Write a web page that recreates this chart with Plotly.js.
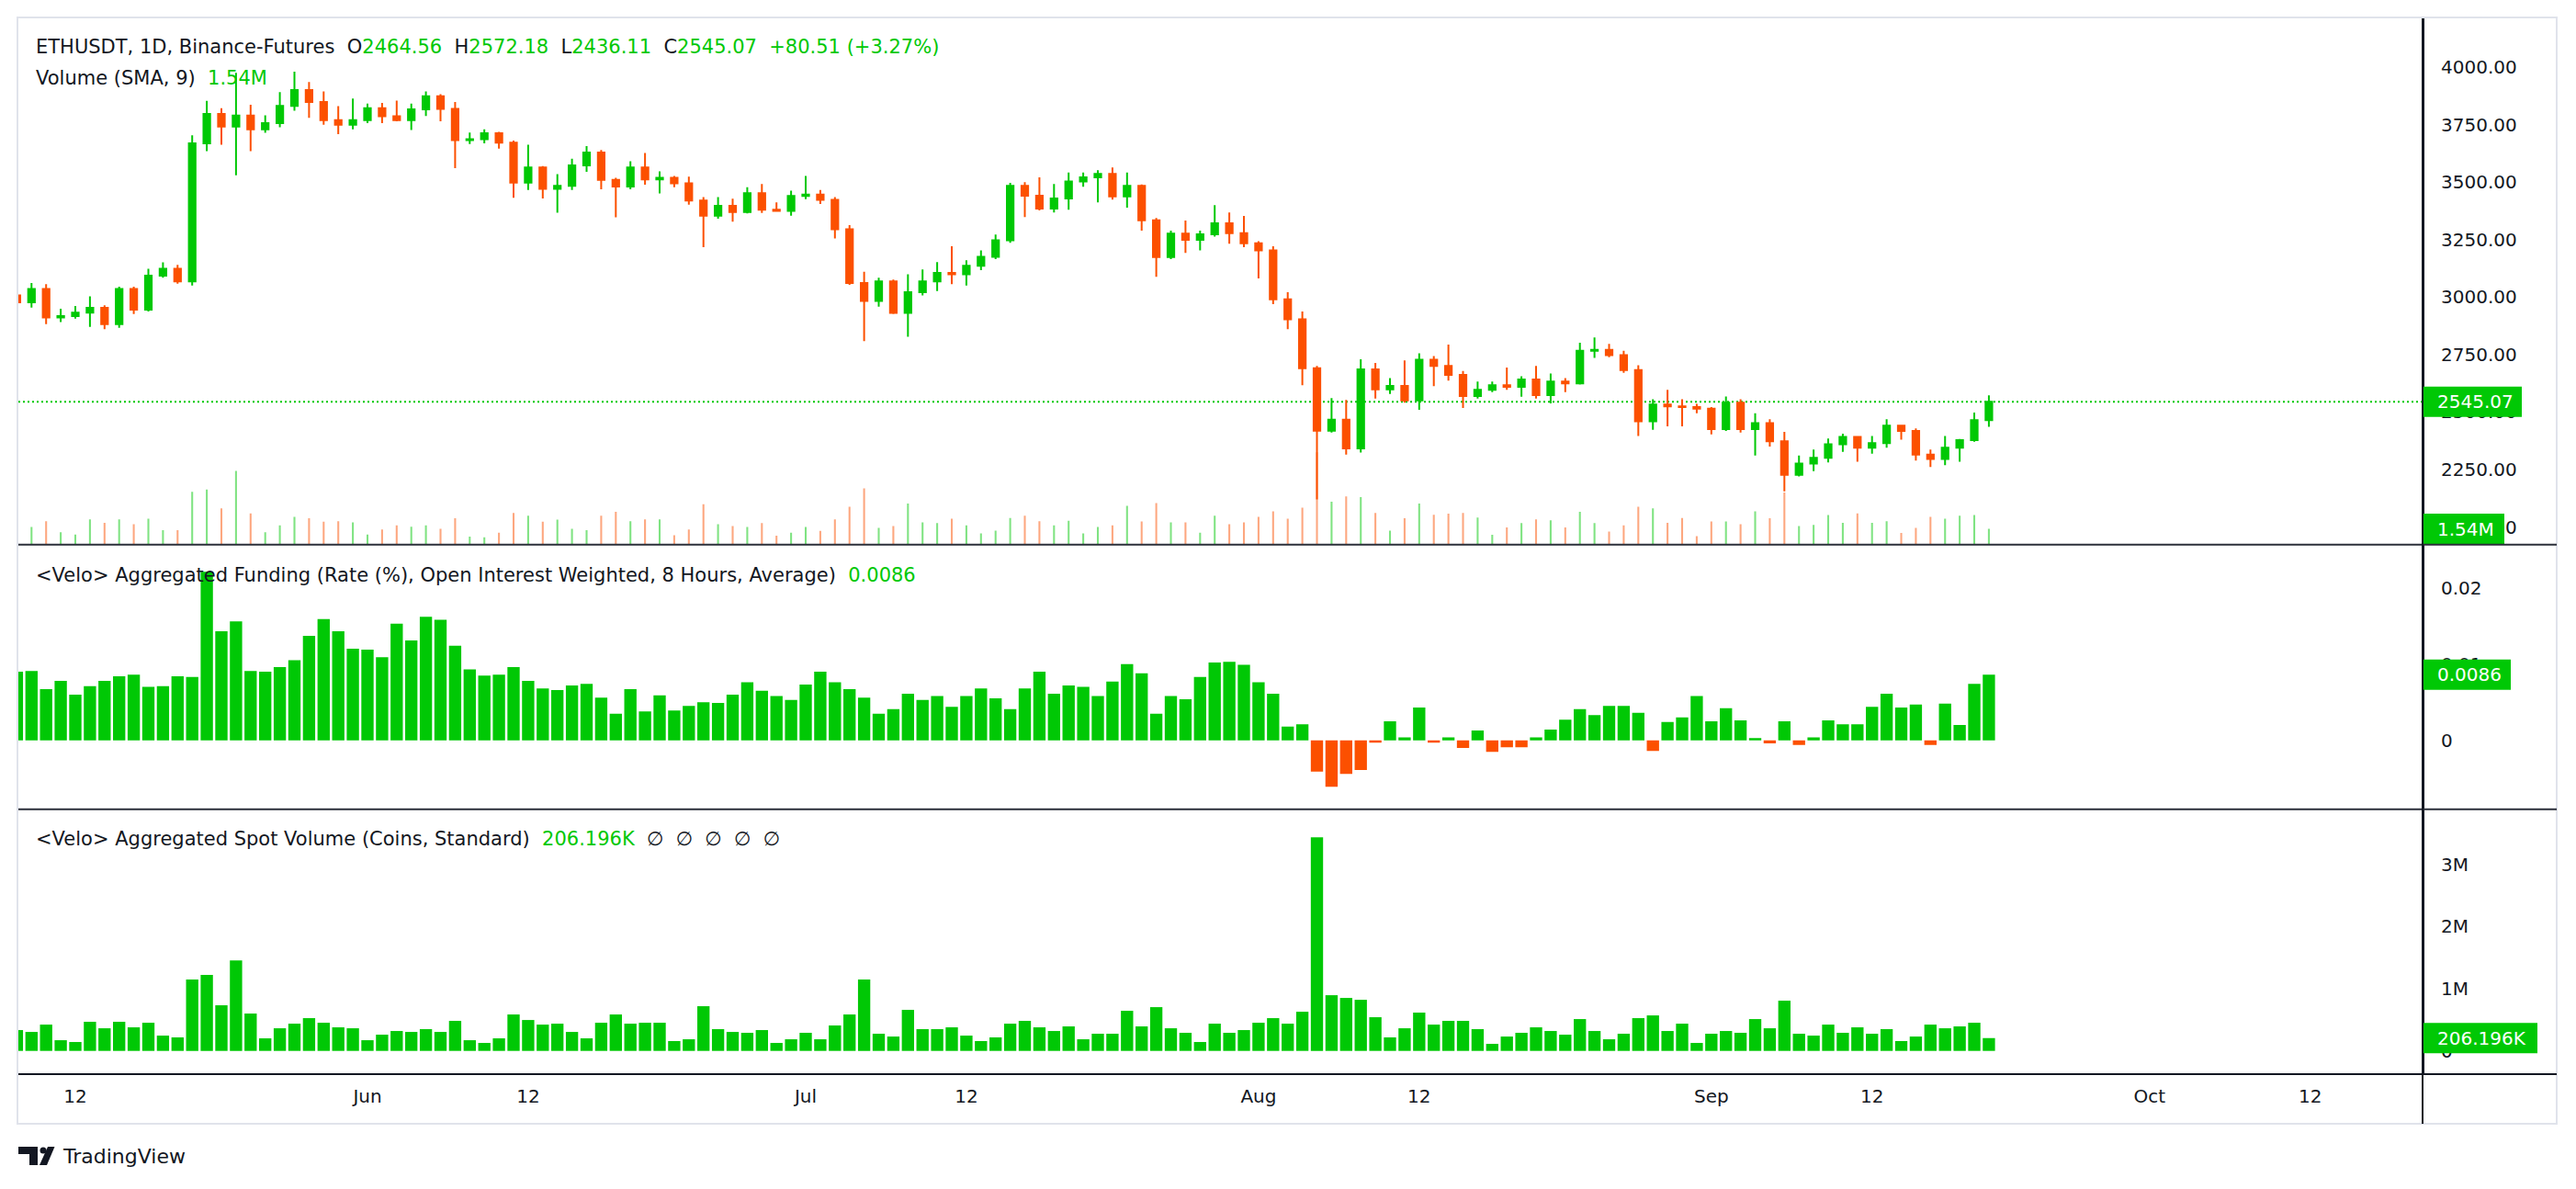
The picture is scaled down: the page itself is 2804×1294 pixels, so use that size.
<!DOCTYPE html>
<html>
<head>
<meta charset="utf-8">
<script src="https://cdn.plot.ly/plotly-3.0.1.min.js"></script>
<style>
html,body{margin:0;padding:0;background:#ffffff;overflow:hidden;}
#chart{width:2804px;height:1294px;}
</style>
</head>
<body>
<div id="chart"></div>
<script>
// ---------------- DATA ----------------
const startDate = '2024-05-08';   // first (partially visible) daily bar

const open = [
 3007,2977,3035,2911,2917,2932,2953,2882,3035,2945,3093,3123,3068,3668,3796,3741,3789,3729,3756,3831,3900,3848,3769,3749,
 3769,3821,3786,3769,3816,3873,3818,3682,3686,3712,3671,3498,3564,3471,3484,3573,3628,3510,3481,3564,3512,3519,3495,3420,3354,3397,3370,3452,3380,3375,
 3440,3446,3423,3295,3061,2983,3068,2931,3021,3068,3105,3099,3136,3175,3247,3484,3441,3385,3429,3503,3521,3536,3438,3484,3334,3174,3276,3249,3273,3321,3278,
 3234,3203,2990,2903,2691,2419,2467,2342,2686,2599,2614,2551,2727,2701,2662,2570,2597,2617,2610,2642,2574,2633,2625,2766,2770,2747,2683,2460,2533,2525,2522,
 2515,2426,2541,2426,2452,2373,2227,2276,2301,2360,2392,2345,2365,2441,2418,2315,2296,2345,2378,2464.56
];
const high = [
 3020,3061,3056,2949,2961,3003,2964,3045,3045,3123,3151,3140,3703,3853,3821,3975,3836,3790,3891,3980,3935,3894,3830,3863,
 3841,3844,3854,3841,3894,3882,3848,3715,3729,3718,3680,3662,3570,3535,3601,3656,3639,3519,3591,3626,3547,3527,3524,3435,3435,3428,3478,3492,3412,3463,
 3527,3466,3435,3313,3110,3084,3076,3099,3120,3152,3221,3160,3203,3272,3497,3500,3521,3492,3542,3542,3552,3564,3542,3490,3344,3289,3333,3289,3400,3368,3353,
 3243,3221,3021,2937,2701,2561,2553,2729,2714,2648,2724,2755,2743,2793,2679,2633,2633,2694,2656,2701,2668,2648,2801,2824,2796,2766,2704,2556,2597,2556,2536,
 2522,2568,2556,2495,2469,2414,2311,2337,2385,2406,2396,2396,2469,2444,2429,2337,2396,2383,2498,2572.18
];
const low = [
 2960,2954,2882,2891,2906,2870,2860,2866,2926,2937,3084,3058,3050,3634,3662,3530,3634,3714,3738,3810,3779,3749,3708,3729,
 3756,3756,3764,3726,3787,3764,3561,3665,3668,3645,3432,3466,3429,3367,3466,3545,3469,3347,3469,3489,3451,3478,3402,3217,3341,3328,3364,3366,3374,3354,
 3426,3405,3255,3053,2808,2958,2926,2827,3007,3026,3056,3050,3117,3165,3236,3348,3377,3368,3380,3480,3412,3424,3389,3289,3088,3165,3192,3203,3263,3232,3217,
 3081,2969,2860,2617,2120,2411,2315,2324,2559,2579,2541,2510,2613,2637,2518,2559,2587,2597,2567,2559,2538,2587,2620,2735,2738,2671,2396,2423,2438,2438,2495,
 2403,2418,2411,2311,2350,2155,2220,2243,2281,2327,2284,2319,2345,2380,2289,2261,2269,2284,2371,2436.11
];
const close = [
 2977,3035,2911,2917,2932,2953,2882,3035,2945,3093,3123,3068,3668,3796,3741,3789,3729,3756,3831,3900,3848,3769,3749,3769,
 3821,3786,3769,3816,3873,3818,3682,3686,3712,3671,3498,3564,3471,3484,3573,3628,3510,3481,3564,3512,3519,3495,3420,3354,3397,3370,3452,3380,3375,3440,
 3446,3423,3295,3061,2983,3068,2931,3021,3068,3105,3099,3136,3175,3247,3484,3441,3385,3429,3503,3521,3536,3438,3484,3334,3174,3276,3249,3273,3321,3278,3234,
 3203,2990,2903,2691,2419,2467,2342,2686,2599,2614,2551,2727,2701,2662,2570,2597,2617,2610,2642,2574,2633,2625,2766,2770,2747,2683,2460,2533,2525,2522,2515,
 2426,2541,2426,2452,2373,2227,2276,2301,2360,2392,2345,2365,2441,2418,2315,2296,2345,2378,2464.56,2545.07
];
// Binance-Futures volume, millions of ETH
const volume = [
 1.70,1.71,2.29,1.20,0.99,2.47,2.12,2.47,1.99,2.53,1.40,1.40,5.14,5.38,3.53,7.19,3.05,1.20,1.88,2.71,2.57,2.23,2.29,2.16,
 0.99,1.47,1.88,1.75,1.88,1.54,2.57,0.79,0.72,1.16,3.08,2.81,2.23,2.43,1.54,1.40,2.81,3.19,2.29,2.47,2.47,0.92,1.47,3.94,1.99,1.82,1.71,2.09,0.86,1.16,
 1.71,1.34,2.47,3.70,5.48,1.64,1.82,4.00,2.16,2.09,2.53,1.88,1.10,1.37,2.60,2.81,2.29,1.88,2.33,1.10,1.71,1.88,3.77,2.26,4.04,2.16,2.16,1.16,2.81,1.99,2.16,
 2.71,3.25,2.53,3.60,9.00,4.18,4.69,4.62,3.08,1.37,2.57,4.01,2.91,3.01,3.08,2.64,0.96,1.68,2.09,2.47,2.36,1.68,3.19,2.09,1.27,1.88,3.70,3.53,2.12,2.60,0.82,
 2.26,2.26,1.99,3.25,2.57,5.07,1.82,1.92,2.88,2.12,3.05,2.12,2.29,1.13,1.64,2.71,2.53,2.81,2.88,1.54
];
// Velo aggregated funding rate, %
const funding = [
 0.0090,0.0091,0.0067,0.0078,0.0060,0.0071,0.0078,0.0084,0.0086,0.0070,0.0071,0.0084,0.0083,0.0221,0.0143,0.0156,0.0091,0.0090,0.0096,0.0105,0.0137,0.0159,0.0143,0.0120,
 0.0119,0.0109,0.0153,0.0131,0.0162,0.0158,0.0124,0.0093,0.0085,0.0086,0.0096,0.0078,0.0068,0.0066,0.0072,0.0074,0.0056,0.0035,0.0067,0.0038,0.0059,0.0039,0.0045,0.0050,0.0049,0.0060,0.0076,0.0065,0.0058,0.0053,
 0.0073,0.0090,0.0076,0.0067,0.0056,0.0035,0.0041,0.0061,0.0053,0.0058,0.0044,0.0058,0.0068,0.0055,0.0041,0.0068,0.0090,0.0061,0.0072,0.0070,0.0058,0.0077,0.0100,0.0088,0.0035,0.0058,0.0054,0.0083,0.0102,0.0103,0.0099,
 0.0076,0.0061,0.0018,0.0021,-0.0041,-0.0061,-0.0044,-0.0039,-0.0003,0.0025,0.0004,0.0043,-0.0003,0.0004,-0.0010,0.0013,-0.0015,-0.0009,-0.0009,0.0004,0.0014,0.0027,0.0041,0.0033,0.0045,0.0045,0.0036,-0.0014,0.0024,0.0030,0.0058,
 0.0025,0.0042,0.0026,0.0003,-0.0004,0.0025,-0.0006,0.0004,0.0026,0.0021,0.0021,0.0044,0.0061,0.0043,0.0047,-0.0006,0.0048,0.0020,0.0074,0.0086
];
// Velo aggregated spot volume, millions of coins
const spotVolume = [
 0.335,0.305,0.423,0.172,0.143,0.468,0.364,0.468,0.379,0.453,0.246,0.217,1.147,1.221,0.734,1.457,0.601,0.202,0.364,0.438,0.527,0.453,0.379,0.364,
 0.172,0.261,0.320,0.305,0.350,0.305,0.483,0.172,0.128,0.202,0.586,0.497,0.423,0.438,0.305,0.202,0.453,0.586,0.438,0.453,0.453,0.158,0.187,0.719,0.350,0.305,0.291,0.335,0.128,0.187,
 0.291,0.187,0.409,0.586,1.147,0.276,0.231,0.660,0.350,0.350,0.379,0.246,0.158,0.217,0.438,0.483,0.379,0.320,0.394,0.187,0.276,0.276,0.645,0.394,0.704,0.364,0.291,0.143,0.438,0.291,0.335,
 0.453,0.527,0.438,0.630,3.437,0.896,0.852,0.822,0.542,0.217,0.364,0.616,0.423,0.483,0.483,0.350,0.113,0.231,0.291,0.379,0.320,0.261,0.512,0.320,0.187,0.276,0.527,0.571,0.320,0.438,0.128,
 0.276,0.320,0.291,0.512,0.364,0.808,0.276,0.246,0.423,0.291,0.379,0.276,0.350,0.158,0.231,0.423,0.364,0.394,0.453,0.206196
];
const timeTickVals = ['2024-05-12','2024-06-01','2024-06-12','2024-07-01','2024-07-12','2024-08-01','2024-08-12','2024-09-01','2024-09-12','2024-10-01','2024-10-12'];
const timeTickText = ['12','Jun','12','Jul','12','Aug','12','Sep','12','Oct','12'];
const priceTicks = [2000,2250,2500,2750,3000,3250,3500,3750,4000];
const fundingTicks = [0,0.01,0.02];
const fundingTickText = ['0','0.01','0.02'];
const spotTicks = [0,1,2,3];
const spotTickText = ['0','1M','2M','3M'];

// ---------------- STYLE ----------------
const GREEN = '#00c805', ORANGE = '#fc5000';
const GREEN_L = 'rgba(0,200,5,0.5)', ORANGE_L = 'rgba(252,80,0,0.5)';
const TXT = '#131722', FONT = 'DejaVu Sans';
const AXIS = '#131722', SEP = '#2a2e39', BORDER = '#e0e3eb';

const dates = open.map((_, i) => {
  const d = new Date(startDate + 'T00:00:00Z');
  d.setUTCDate(d.getUTCDate() + i);
  return d.toISOString().slice(0, 10);
});

// pixel geometry of the plot area
const L = 20, R = 2637, T = 20, B = 1169;
const px = x => (x - L) / (R - L);
const py = y => (B - y) / (B - T);
const sepTop = 592.7, sepMid = 880.7;

const n = open.length;
const last = n - 1;
const volColors = close.map((c, i) => c >= open[i] ? GREEN_L : ORANGE_L);
const fundColors = funding.map(v => v >= 0 ? GREEN : ORANGE);
const DAY = 86400000;

const traces = [
  { type: 'bar', x: dates, y: volume, xaxis: 'x', yaxis: 'y', width: 0.13 * DAY,
    marker: { color: volColors, line: { width: 0 } }, hoverinfo: 'skip' },
  { type: 'candlestick', x: dates, open: open, high: high, low: low, close: close,
    xaxis: 'x', yaxis: 'y2', whiskerwidth: 0,
    increasing: { line: { color: GREEN, width: 2 }, fillcolor: GREEN },
    decreasing: { line: { color: ORANGE, width: 2 }, fillcolor: ORANGE },
    hoverinfo: 'skip' },
  { type: 'bar', x: dates, y: funding, xaxis: 'x', yaxis: 'y3', width: 0.84 * DAY,
    marker: { color: fundColors, line: { width: 0 } }, hoverinfo: 'skip' },
  { type: 'bar', x: dates, y: spotVolume, xaxis: 'x', yaxis: 'y4', width: 0.84 * DAY,
    marker: { color: GREEN, line: { width: 0 } }, hoverinfo: 'skip' }
];

const tickFont = { family: FONT, size: 20, color: TXT };
const yCommon = { showgrid: false, zeroline: false, ticks: '', fixedrange: true,
  tickfont: tickFont, showline: true, linecolor: AXIS, linewidth: 2, ticklabelstandoff: 14 };

const sp = '\u00a0\u00a0';
const g = s => `<span style="color:${GREEN}">${s}</span>`;
const chg = close[last] - close[last - 1];
const chgPct = chg / close[last - 1] * 100;
const line1 = `ETHUSDT, 1D, Binance-Futures${sp}O${g(open[last].toFixed(2))}${sp}H${g(high[last].toFixed(2))}${sp}L${g(low[last].toFixed(2))}${sp}C${g(close[last].toFixed(2))}${sp}${g((chg >= 0 ? '+' : '') + chg.toFixed(2) + ' (' + (chg >= 0 ? '+' : '') + chgPct.toFixed(2) + '%)')}`;
const line2 = `Volume (SMA, 9)${sp}${g(volume[last].toFixed(2) + 'M')}`;
const line3 = `&lt;Velo&gt; Aggregated Funding (Rate (%), Open Interest Weighted, 8 Hours, Average)${sp}${g(funding[last].toFixed(4))}`;
const spotK = (spotVolume[last] * 1000).toFixed(3) + 'K';
const line4 = `&lt;Velo&gt; Aggregated Spot Volume (Coins, Standard)${sp}${g(spotK)}${sp}\u2205${sp}\u2205${sp}\u2205${sp}\u2205${sp}\u2205`;

const legendAnn = (text, y) => ({ xref: 'paper', yref: 'paper', x: px(37), y: py(y), xanchor: 'left', yanchor: 'middle',
  text: text, showarrow: false, font: { family: FONT, size: 21, color: TXT } });

// value boxes on the right scale
const boxes = [
  { yref: 'y2', val: close[last], w: 109, text: close[last].toFixed(2) },
  { yref: 'y',  val: volume[last], w: 90, text: volume[last].toFixed(2) + 'M' },
  { yref: 'y3', val: funding[last], w: 97, text: funding[last].toFixed(4) },
  { yref: 'y4', val: spotVolume[last], w: 126, text: spotK }
];

const shapes = [];
const annotations = [legendAnn(line1, 51), legendAnn(line2, 85), legendAnn(line3, 626), legendAnn(line4, 913)];

// last price dotted line
shapes.push({ type: 'line', xref: 'paper', x0: 0, x1: 1, yref: 'y2', y0: close[last], y1: close[last],
  line: { color: GREEN, width: 2, dash: '2px,3px' }, layer: 'below' });

boxes.forEach(b => {
  shapes.push({ type: 'rect', xref: 'paper', x0: px(2636), x1: px(2636 + b.w), yref: b.yref,
    ysizemode: 'pixel', yanchor: b.val, y0: -16.5, y1: 16.5, fillcolor: GREEN, line: { width: 0 }, layer: 'above' });
  annotations.push({ xref: 'paper', x: px(2651), xanchor: 'left', yref: b.yref, y: b.val, yanchor: 'middle',
    text: b.text, showarrow: false, font: { family: FONT, size: 20, color: '#ffffff' } });
});

// frame: border, pane separators, axis lines
shapes.push({ type: 'rect', xref: 'paper', yref: 'paper', x0: px(19), x1: px(2783), y0: py(1223), y1: py(19),
  line: { color: BORDER, width: 2 }, fillcolor: 'rgba(0,0,0,0)', layer: 'above' });
[sepTop, sepMid].forEach(y => shapes.push({ type: 'line', xref: 'paper', yref: 'paper', x0: px(20), x1: px(2783),
  y0: py(y), y1: py(y), line: { color: SEP, width: 2 }, layer: 'above' }));
shapes.push({ type: 'line', xref: 'paper', yref: 'paper', x0: px(20), x1: px(2783), y0: py(1169), y1: py(1169),
  line: { color: AXIS, width: 2 }, layer: 'above' });
shapes.push({ type: 'line', xref: 'paper', yref: 'paper', x0: px(2637), x1: px(2637), y0: py(1223), y1: py(20),
  line: { color: AXIS, width: 2 }, layer: 'above' });

// TradingView logo
const pth = pts => 'M' + pts.map(p => px(p[0]) + ',' + py(p[1])).join(' L') + ' Z';
shapes.push({ type: 'path', xref: 'paper', yref: 'paper', path: pth([[20,1248],[41,1248],[41,1268],[32,1268],[32,1256],[20,1256]]),
  fillcolor: TXT, line: { width: 0 } });
shapes.push({ type: 'path', xref: 'paper', yref: 'paper', path: pth([[52,1248],[59.5,1248],[51,1268],[43,1268]]),
  fillcolor: TXT, line: { width: 0 } });
shapes.push({ type: 'circle', xref: 'paper', yref: 'paper', x0: px(43.5), x1: px(50.5), y0: py(1255.5), y1: py(1248.5),
  fillcolor: TXT, line: { width: 0 } });
annotations.push({ xref: 'paper', yref: 'paper', x: px(66), y: py(1258), xanchor: 'left', yanchor: 'middle',
  text: 'TradingView', showarrow: false, font: { family: FONT, size: 22, color: TXT } });

const layout = {
  width: 2804, height: 1294,
  margin: { l: L, r: 2804 - R, t: T, b: 1294 - B, pad: 0 },
  paper_bgcolor: '#ffffff', plot_bgcolor: '#ffffff',
  showlegend: false, barmode: 'overlay', boxgap: 0.35,
  font: { family: FONT, color: TXT },
  xaxis: { type: 'date', range: ['2024-05-08 02:25', '2024-10-19 16:34'], anchor: 'y4',
    tickmode: 'array', tickvals: timeTickVals, ticktext: timeTickText, ticks: '',
    showgrid: false, zeroline: false, showline: false, fixedrange: true,
    tickfont: tickFont, ticklabelstandoff: 10, rangeslider: { visible: false } },
  yaxis: { domain: [py(sepTop), 1], range: [0, 51.3], visible: false, fixedrange: true },
  yaxis2: Object.assign({}, yCommon, { overlaying: 'y', side: 'right', anchor: 'x',
    range: [1923.6, 4211.8], tickmode: 'array', tickvals: priceTicks, tickformat: '.2f' }),
  yaxis3: Object.assign({}, yCommon, { domain: [py(sepMid), py(sepTop)], side: 'right', anchor: 'x',
    range: [-0.009036, 0.025663], tickmode: 'array', tickvals: fundingTicks, ticktext: fundingTickText }),
  yaxis4: Object.assign({}, yCommon, { domain: [0, py(sepMid)], side: 'right', anchor: 'x',
    range: [-0.374, 3.888], tickmode: 'array', tickvals: spotTicks, ticktext: spotTickText }),
  shapes: shapes,
  annotations: annotations
};

Plotly.newPlot('chart', traces, layout, { displayModeBar: false, staticPlot: true });
</script>
</body>
</html>
